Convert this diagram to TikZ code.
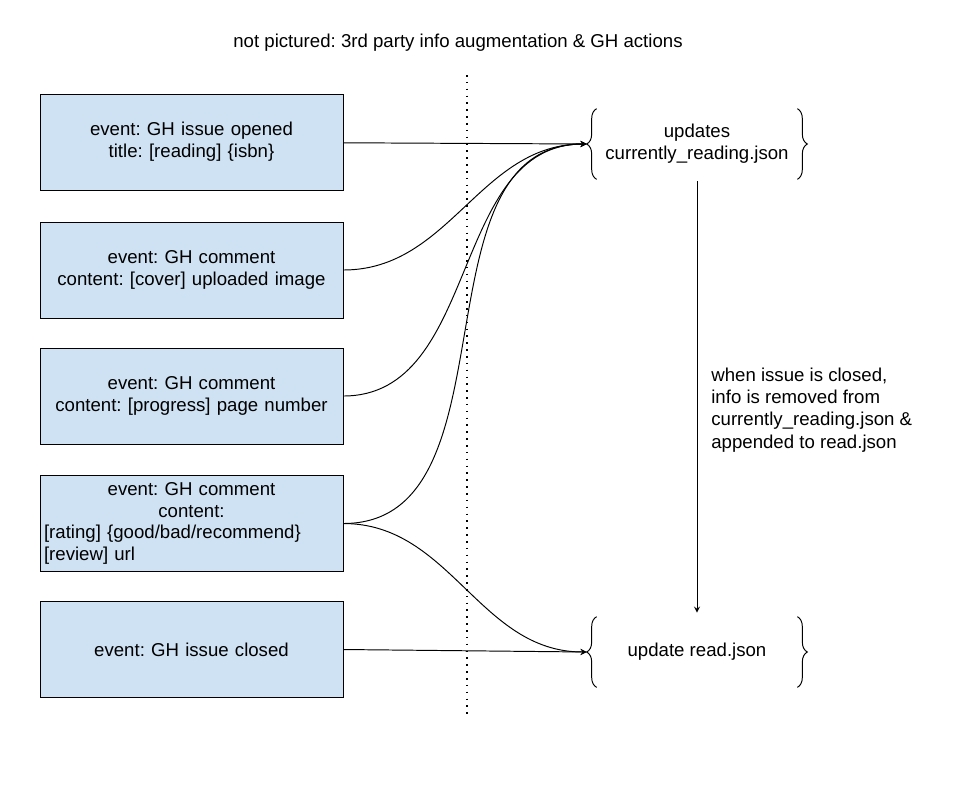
\documentclass[tikz,border=0pt]{standalone}
\usepackage{fontspec}
\setmainfont{Liberation Sans}
\frenchspacing
\usepackage{xcolor}
\usetikzlibrary{arrows, positioning, decorations.pathreplacing}
\definecolor{eventblue}{HTML}{CFE2F3}
\tikzstyle{event} = [rectangle, draw=black, fill=eventblue, text width=5.9cm, minimum height=1.92cm, inner sep=0.08cm, align=center, font=\fontsize{10.6}{12.4}\selectfont]
\tikzstyle{output} = [rectangle, minimum width=4cm, minimum height=1.4cm, inner sep=0pt, align=center, font=\fontsize{10.6}{12.4}\selectfont]
\tikzstyle{heading} = [inner sep=0pt, font=\fontsize{10.6}{12.4}\selectfont]
\tikzstyle{note} = [inner sep=0pt, align=left, font=\fontsize{10.6}{12.6}\selectfont]
\tikzstyle{arrow} = [line width=0.55pt,->,>=stealth]
\tikzstyle{brace} = [line width=0.55pt, decorate, decoration={brace, amplitude=0.2cm}]
\tikzstyle{divider} = [line width=1.1pt, dash pattern=on 0.9pt off 3pt]

\begin{document}
\begin{tikzpicture}[x=0.02cm, y=-0.02cm]
        \useasboundingbox (0,0) rectangle (966,792);
        \node[heading] (heading) at (458,43) {not pictured: 3rd party info augmentation \& GH actions};

        \node[event] (opened) at (191.5,142) {event: GH issue opened\\title: [reading] \{isbn\}};
        \node[event] (cover) at (191.5,270) {event: GH comment\\content: [cover] uploaded image};
        \node[event] (progress) at (191.5,396) {event: GH comment\\content: [progress] page number};
        \node[event] (rating) at (191.5,523.5) {\parbox{5.9cm}{\centering event: GH comment\\content:\par\raggedright [rating] \{good/bad/recommend\}\\\relax[review] url}};
        \node[event] (closed) at (191.5,649.5) {event: GH issue closed};

        \node[output] (updcur) at (697,144) {updates\\currently\_reading.json};
        \node[output] (updread) at (697,652) {update read.json};
        \coordinate[left=0.2cm of updcur] (curin);
        \coordinate[left=0.2cm of updread] (readin);
        \draw[brace] (updcur.south west) -- (updcur.north west);
        \draw[brace] (updcur.north east) -- (updcur.south east);
        \draw[brace] (updread.south west) -- (updread.north west);
        \draw[brace] (updread.north east) -- (updread.south east);

        % divider
        \coordinate (divtop) at (467,75);
        \coordinate (divbot) at (467,718);
        \draw[divider] (divtop) -- (divbot);

        \draw[arrow] (opened) -- (curin);
        \draw[arrow] (cover.east) to[out=0, in=180] (curin);
        \draw[arrow] (progress.east) to[out=0, in=180] (curin);
        \draw[arrow] (rating.east) to[out=0, in=180] (curin);
        \draw[arrow] (rating.east) to[out=0, in=180] (readin);
        \draw[arrow] (closed.east) -- (readin);

        \draw[arrow, shorten <=0.04cm, shorten >=0.08cm] (updcur.south) -- (updread.north);
        \node[note, anchor=west] (closenote) at (711,410) {when issue is closed,\\info is removed from\\currently\_reading.json \&\\appended to read.json};
    \end{tikzpicture}
\end{document}
